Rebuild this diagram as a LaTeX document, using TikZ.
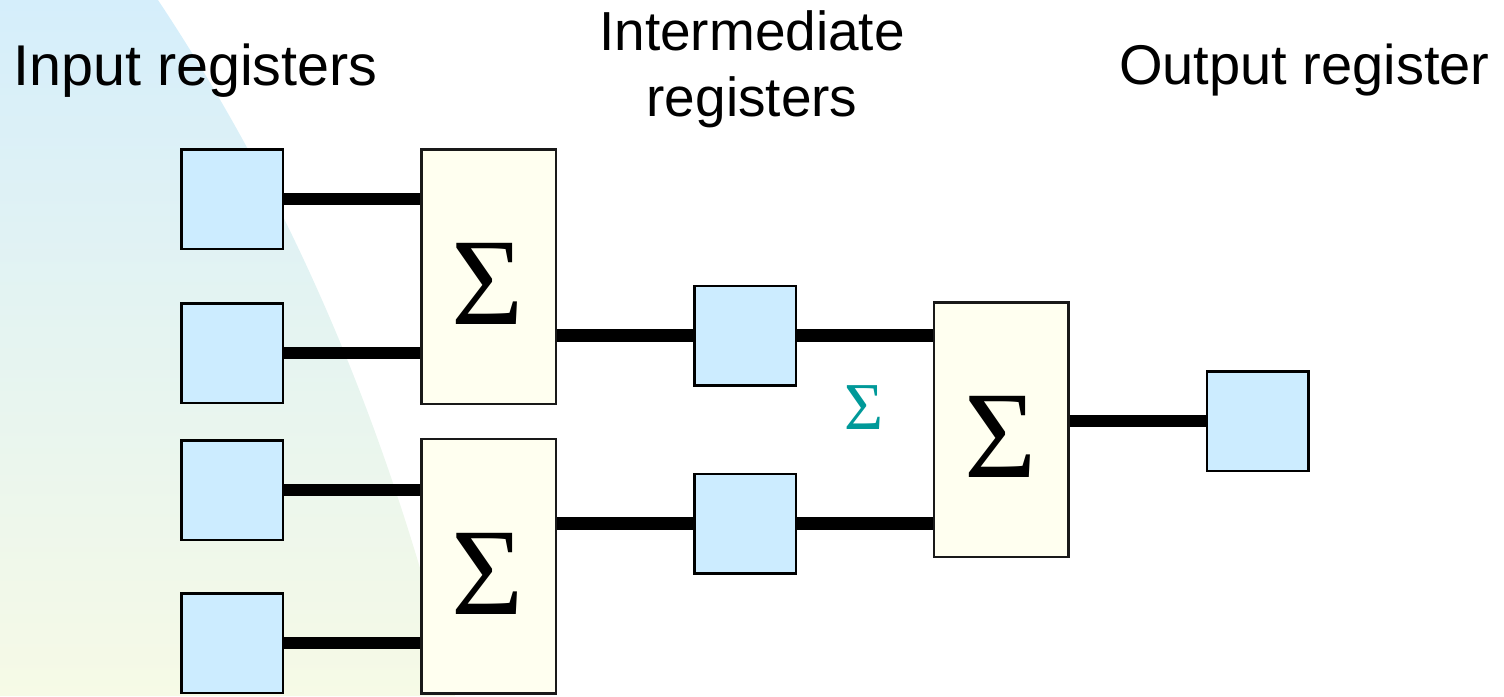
\documentclass[tikz,border=0pt]{standalone}
\usepackage{fontspec}
\setmainfont{Liberation Sans}
\newfontfamily\sigfont{Liberation Serif}
\definecolor{regblue}{HTML}{CCECFF}
\definecolor{sumfill}{HTML}{FFFFF0}
\definecolor{bgtop}{HTML}{D5EEFB}
\definecolor{bgbot}{HTML}{F6FAE6}
\definecolor{teal2}{HTML}{009999}
\begin{document}
\begin{tikzpicture}[x=1pt,y=-1pt,
  reg/.style={draw=black,line width=2.5pt,fill=regblue,rectangle,inner sep=0pt,minimum width=101.5pt,minimum height=99.5pt},
  sumbox/.style={draw=black!90,line width=2.5pt,fill=sumfill,rectangle,inner sep=0pt,minimum width=134.5pt,minimum height=254.5pt},
  bigsig/.style={font=\sigfont\fontsize{124}{124}\selectfont,inner sep=0pt},
  wire/.style={line width=12.5pt,black},
  lbl/.style={inner sep=0pt,align=center}]
\useasboundingbox (0,0) rectangle (1504,696);
\shade[top color=bgtop,bottom color=bgbot] (0,0) -- (158,0) .. controls (312,232) and (397,464) .. (455,696) -- (0,696) -- cycle;
% input registers
\node[reg] (in1) at (232,199) {};
\node[reg] (in2) at (232,353) {};
\node[reg] (in3) at (232,490) {};
\node[reg] (in4) at (232,643) {};
% summation boxes
\node[sumbox] (s1) at (488.5,276.5) {};
\node[sumbox] (s2) at (488.5,566) {};
\node[sumbox] (s3) at (1001,429.5) {};
\node[bigsig] (g1) at (488,284) {Σ};
\node[bigsig] (g2) at (488,574) {Σ};
\node[bigsig] (g3) at (1001,437) {Σ};
% intermediate and output registers
\node[reg] (i1) at (745,335.5) {};
\node[reg] (i2) at (745,523.5) {};
\node[reg] (o) at (1257.5,421) {};
% wires
\draw[wire] (in1.east) -- (in1.east -| s1.west);
\draw[wire] (in2.east) -- (in2.east -| s1.west);
\draw[wire] (in3.east) -- (in3.east -| s2.west);
\draw[wire] (in4.east) -- (in4.east -| s2.west);
\draw[wire] (s1.east |- i1.west) -- (i1.west);
\draw[wire] (i1.east) -- (i1.east -| s3.west);
\draw[wire] (s2.east |- i2.west) -- (i2.west);
\draw[wire] (i2.east) -- (i2.east -| s3.west);
\draw[wire] (s3.east |- o.west) -- (o.west);
% teal sigma
\node[font=\sigfont\fontsize{67}{67}\selectfont,text=teal2,inner sep=0pt] (ts) at (864,408) {Σ};
% labels
\node[lbl,font=\fontsize{57.5}{60}\selectfont,anchor=base west] (lin) at (13,85) {Input registers};
\node[lbl,font=\fontsize{55}{60}\selectfont,anchor=base] (lint) at (752,50) {Intermediate};
\node[lbl,font=\fontsize{55}{60}\selectfont,anchor=base] (lint2) at (752,116) {registers};
\node[lbl,font=\fontsize{56}{60}\selectfont,anchor=base west] (lout) at (1119,84) {Output register};
\end{tikzpicture}
\end{document}
